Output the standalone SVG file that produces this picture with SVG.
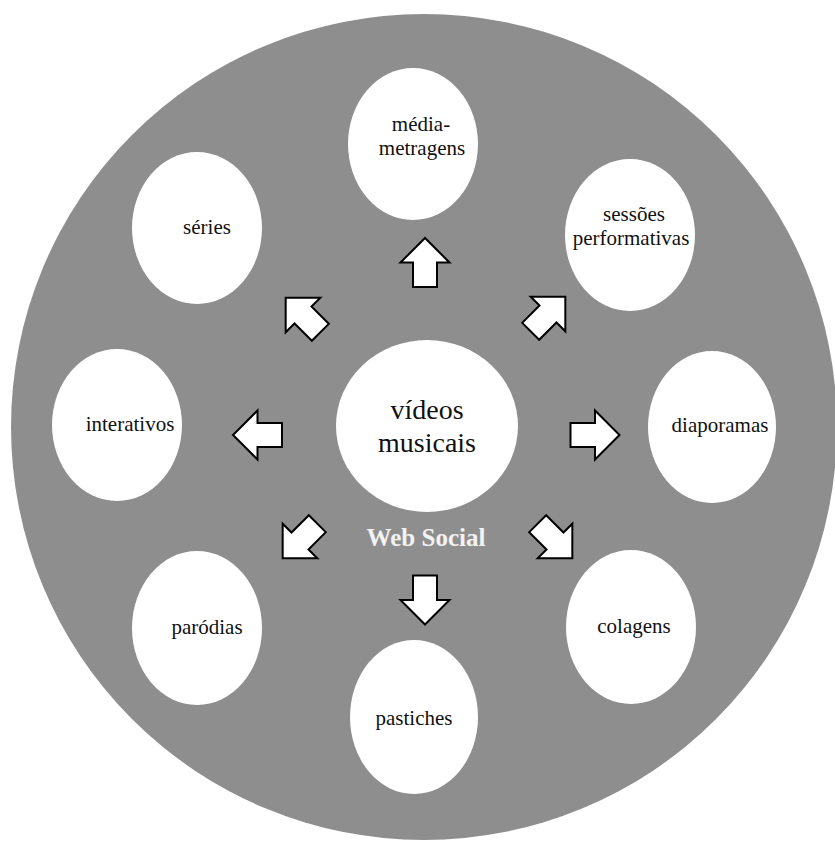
<svg xmlns="http://www.w3.org/2000/svg" width="835" height="841" viewBox="0 0 835 841">
  <style>
    .disc { fill: #8e8e8e; }
    .node { fill: #ffffff; }
    .lbl { font-family: "Liberation Serif", "Times New Roman", serif; font-size: 21px; fill: #111111; text-anchor: middle; }
    .big { font-size: 28px; }
    .web { font-family: "Liberation Serif", "Times New Roman", serif; font-size: 25px; font-weight: bold; fill: #f2f2f2; text-anchor: middle; }
    .arrow { fill: #ffffff; stroke: #000000; stroke-width: 2; stroke-linejoin: miter; }
  </style>
  <defs>
    <!-- block arrow pointing right, centred on the origin -->
    <path id="blockArrow" d="M-24.5,-12 L0,-12 L0,-24.5 L24.5,0 L0,24.5 L0,12 L-24.5,12 Z"/>
  </defs>

  <g id="web-social">
    <circle class="disc" cx="424" cy="427" r="413"/>
    <text class="web" x="426" y="546">Web Social</text>
  </g>

  <g id="videos-musicais">
    <ellipse class="node" cx="427" cy="426" rx="91" ry="86"/>
    <text class="lbl big" x="427" y="419">vídeos</text>
    <text class="lbl big" x="427" y="452">musicais</text>
  </g>

  <g id="media-metragens">
    <ellipse class="node" cx="413" cy="144" rx="65" ry="76"/>
    <text class="lbl" x="421" y="131">média-</text>
    <text class="lbl" x="422" y="155">metragens</text>
  </g>

  <g id="series">
    <ellipse class="node" cx="197" cy="228" rx="65" ry="76"/>
    <text class="lbl" x="207" y="234">séries</text>
  </g>

  <g id="sessoes-performativas">
    <ellipse class="node" cx="630" cy="235" rx="65" ry="76"/>
    <text class="lbl" x="634" y="221">sessões</text>
    <text class="lbl" x="631" y="245">performativas</text>
  </g>

  <g id="interativos">
    <ellipse class="node" cx="117" cy="425" rx="65" ry="76"/>
    <text class="lbl" x="130" y="431">interativos</text>
  </g>

  <g id="diaporamas">
    <ellipse class="node" cx="712" cy="427" rx="64" ry="76"/>
    <text class="lbl" x="720" y="432">diaporamas</text>
  </g>

  <g id="parodias">
    <ellipse class="node" cx="197" cy="628" rx="65" ry="77"/>
    <text class="lbl" x="207" y="634">paródias</text>
  </g>

  <g id="colagens">
    <ellipse class="node" cx="631" cy="627" rx="65" ry="77"/>
    <text class="lbl" x="634" y="633">colagens</text>
  </g>

  <g id="pastiches">
    <ellipse class="node" cx="414" cy="717" rx="64" ry="77"/>
    <text class="lbl" x="414" y="725">pastiches</text>
  </g>

  <g id="connectors">
    <use href="#blockArrow" class="arrow" transform="translate(425,262.5) rotate(-90)"/>
    <use href="#blockArrow" class="arrow" transform="translate(425,600) rotate(90)"/>
    <use href="#blockArrow" class="arrow" transform="translate(257.5,435) rotate(180)"/>
    <use href="#blockArrow" class="arrow" transform="translate(595,435)"/>
    <use href="#blockArrow" class="arrow" transform="translate(303,315) rotate(225)"/>
    <use href="#blockArrow" class="arrow" transform="translate(548,314) rotate(-45)"/>
    <use href="#blockArrow" class="arrow" transform="translate(300,541) rotate(135)"/>
    <use href="#blockArrow" class="arrow" transform="translate(555,541) rotate(45)"/>
  </g>
</svg>
